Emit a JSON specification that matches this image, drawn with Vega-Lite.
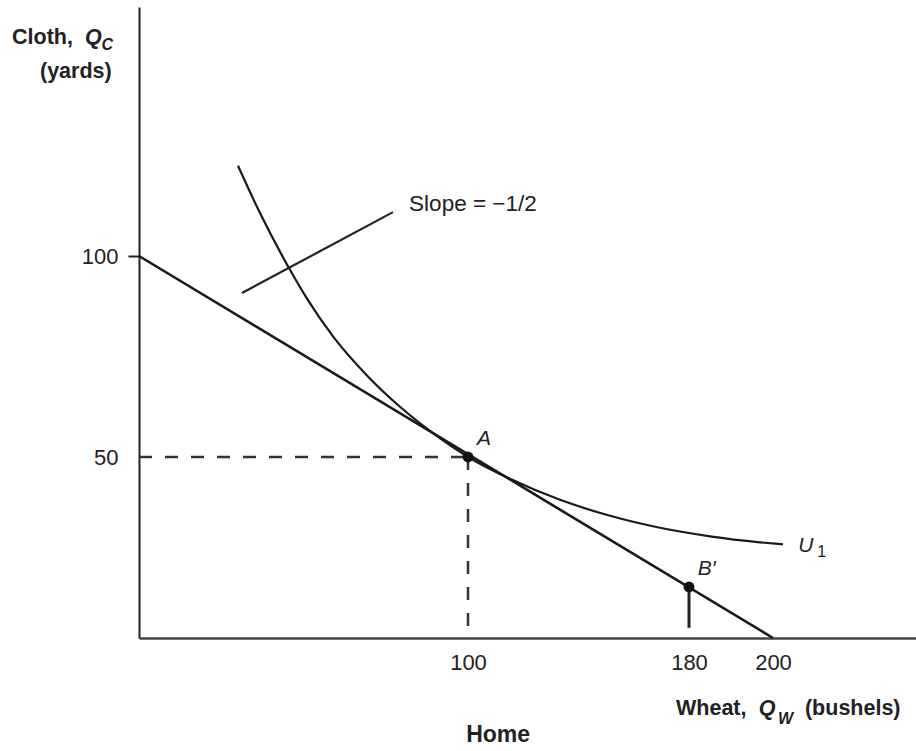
{
  "$schema": "https://vega.github.io/schema/vega-lite/v6.json",
  "autosize": "none",
  "width": 777,
  "height": 631,
  "padding": {"left": 139, "top": 7, "right": 0, "bottom": 113},
  "background": "white",
  "config": {
    "view": {"stroke": null},
    "font": "Liberation Sans",
    "axis": {"grid": false, "labelFont": "Liberation Sans", "labelColor": "#222", "labelFontSize": 22}
  },
  "encoding": {
    "x": {
      "field": "x", "type": "quantitative",
      "scale": {"domain": [0, 100, 180, 200, 234], "range": [0, 329, 550, 634, 777], "nice": false, "zero": false},
      "axis": {"values": [100, 180, 200], "ticks": false, "title": null, "labelPadding": 14, "domainColor": "#444", "domainWidth": 2.5, "labelFlush": false}
    },
    "y": {
      "field": "y", "type": "quantitative",
      "scale": {"domain": [0, 10, 50, 100, 161.9], "range": [631, 580, 450, 249, 0], "nice": false, "zero": false},
      "axis": {"values": [50, 100], "title": null, "tickSize": 11, "tickWidth": 2, "tickColor": "#222",
               "tickOpacity": {"condition": {"test": "datum.value === 50", "value": 0}, "value": 1},
               "labelPadding": 10, "domainColor": "#222", "domainWidth": 2}
    }
  },
  "layer": [
    {
      "data": {"values": [
        {"x": 0, "y": 50, "x2": 100, "y2": 50},
        {"x": 100, "y": 50, "x2": 100, "y2": 0}
      ]},
      "mark": {"type": "rule", "strokeDash": [13, 13], "strokeWidth": 2.5, "color": "#333"},
      "encoding": {"x2": {"field": "x2"}, "y2": {"field": "y2"}}
    },
    {
      "data": {"values": [{"x": 180, "y": 10, "x2": 180, "y2": 2}]},
      "mark": {"type": "rule", "strokeWidth": 3, "color": "#222"},
      "encoding": {"x2": {"field": "x2"}, "y2": {"field": "y2"}}
    },
    {
      "data": {"values": [{"x": 31.3, "y": 90.8, "x2": 77.2, "y2": 110.9}]},
      "mark": {"type": "rule", "strokeWidth": 2.2, "color": "#222"},
      "encoding": {"x2": {"field": "x2"}, "y2": {"field": "y2"}}
    },
    {
      "data": {"values": [{"x": 0, "y": 100}, {"x": 200, "y": 0}]},
      "mark": {"type": "line", "strokeWidth": 2.6, "color": "#1a1a1a"},
      "encoding": {"order": {"field": "x"}}
    },
    {
      "data": {"values": [
        {"x": 30.09, "y": 122.44}, {"x": 36.78, "y": 110.67}, {"x": 45.29, "y": 97.44}, {"x": 51.06, "y": 89.40},
        {"x": 58.97, "y": 80.02}, {"x": 69.30, "y": 70.29}, {"x": 79.33, "y": 62.49}, {"x": 89.36, "y": 55.92},
        {"x": 100, "y": 50}, {"x": 115.20, "y": 43.29}, {"x": 133.30, "y": 36.83}, {"x": 151.40, "y": 31.91},
        {"x": 169.50, "y": 28.22}, {"x": 185.0, "y": 25.60}, {"x": 196.90, "y": 23.75}, {"x": 202.38, "y": 23.11}
      ]},
      "mark": {"type": "line", "strokeWidth": 2.2, "color": "#1a1a1a", "interpolate": "monotone"},
      "encoding": {"order": {"field": "x"}}
    },
    {
      "data": {"values": [{"x": 100, "y": 50, "name": "A"}, {"x": 180, "y": 10, "name": "B′"}]},
      "mark": {"type": "point", "filled": true, "size": 120, "color": "#111", "opacity": 1},
      "encoding": {}
    },
    {
      "data": {"values": [{"x": 82.1, "y": 111.2, "t": "Slope = −1/2"}]},
      "mark": {"type": "text", "align": "left", "baseline": "alphabetic", "fontSize": 22.5, "color": "#222"},
      "encoding": {"text": {"field": "t"}}
    },
    {
      "data": {"values": [
        {"x": 103.3, "y": 53.0, "t": "A"},
        {"x": 182.1, "y": 13.7, "t": "B′"},
        {"x": 206, "y": 20.8, "t": "U"}
      ]},
      "mark": {"type": "text", "align": "left", "baseline": "alphabetic", "fontSize": 21, "fontStyle": "italic", "color": "#222"},
      "encoding": {"text": {"field": "t"}}
    },
    {
      "data": {"values": [{"x": 210.5, "y": 19.2, "t": "1"}]},
      "mark": {"type": "text", "align": "left", "baseline": "alphabetic", "fontSize": 16, "color": "#222"},
      "encoding": {"text": {"field": "t"}}
    },
    {
      "data": {"values": [
        {"x": -38.6, "y": 152.7, "t": "Cloth,"},
        {"x": -30.1, "y": 144.3, "t": "(yards)"},
        {"x": 175.3, "y": -15.1, "t": "Wheat,"},
        {"x": 207.6, "y": -15.1, "t": "(bushels)"}
      ]},
      "mark": {"type": "text", "align": "left", "baseline": "alphabetic", "fontSize": 21.5, "fontWeight": "bold", "color": "#222"},
      "encoding": {"text": {"field": "t"}}
    },
    {
      "data": {"values": [
        {"x": -16.4, "y": 152.7, "t": "Q"},
        {"x": 196.6, "y": -15.1, "t": "Q"}
      ]},
      "mark": {"type": "text", "align": "left", "baseline": "alphabetic", "fontSize": 21.5, "fontWeight": "bold", "fontStyle": "italic", "color": "#222"},
      "encoding": {"text": {"field": "t"}}
    },
    {
      "data": {"values": [
        {"x": -11.4, "y": 151.2, "t": "C"},
        {"x": 201.2, "y": -16.9, "t": "W"}
      ]},
      "mark": {"type": "text", "align": "left", "baseline": "alphabetic", "fontSize": 16, "fontWeight": "bold", "fontStyle": "italic", "color": "#222"},
      "encoding": {"text": {"field": "t"}}
    },
    {
      "data": {"values": [{"x": 110.9, "y": -20.4, "t": "Home"}]},
      "mark": {"type": "text", "align": "center", "baseline": "alphabetic", "fontSize": 23, "fontWeight": "bold", "color": "#222"},
      "encoding": {"text": {"field": "t"}}
    }
  ]
}
